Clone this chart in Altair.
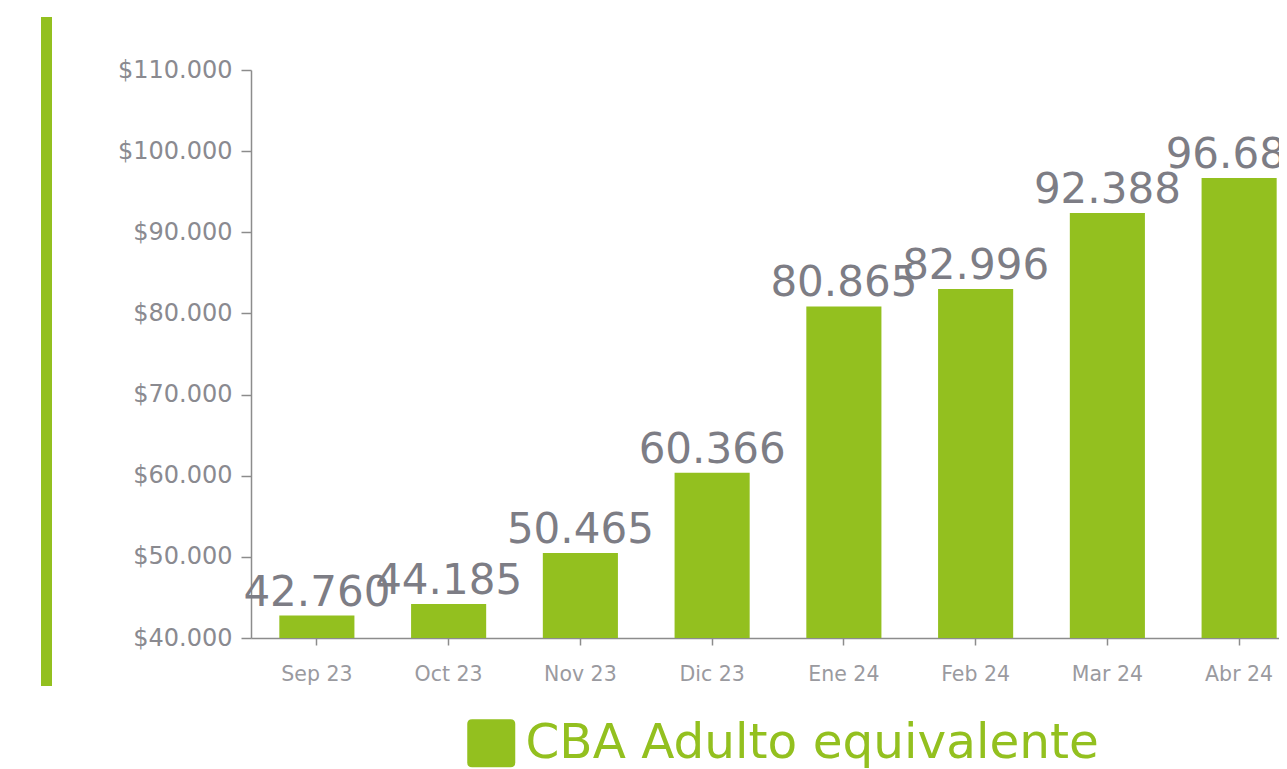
import altair as alt
import pandas as pd

months = ["Sep 23", "Oct 23", "Nov 23", "Dic 23", "Ene 24", "Feb 24", "Mar 24", "Abr 24"]
values = [42760, 44185, 50465, 60366, 80865, 82996, 92388, 96683]
series_name = "CBA Adulto equivalente"

df = pd.DataFrame({"mes": months, "valor": values, "serie": [series_name] * len(months)})

GREEN = "#93c01f"
FONT = "DejaVu Sans"
AXIS_GRAY = "#8c8c8c"

x_enc = alt.X(
    "mes:N", sort=months, title=None,
    scale=alt.Scale(range=[0, 1054], paddingInner=0.43, paddingOuter=0.215),
    axis=alt.Axis(labelAngle=0, tickSize=7, labelPadding=19, labelFontSize=20.5,
                  labelColor="#9a9a9f", domainColor=AXIS_GRAY, tickColor=AXIS_GRAY,
                  labelFont=FONT, grid=False, domainWidth=1.5, tickWidth=1.5),
)
y_enc = alt.Y(
    "valor:Q", title=None,
    scale=alt.Scale(domain=[40000, 110000], nice=False, zero=False),
    axis=alt.Axis(values=list(range(40000, 110001, 10000)), tickSize=10, labelPadding=9,
                  labelFontSize=24, labelColor="#8a8a90", labelFont=FONT,
                  domainColor=AXIS_GRAY, tickColor=AXIS_GRAY, grid=False,
                  domainWidth=1.5, tickWidth=1.5,
                  labelExpr="'$' + replace(format(datum.value, ','), ',', '.')"),
)

rounded_square = ("M -0.8 -1 L 0.8 -1 Q 1 -1 1 -0.8 L 1 0.8 Q 1 1 0.8 1 "
                  "L -0.8 1 Q -1 1 -1 0.8 L -1 -0.8 Q -1 -1 -0.8 -1 Z")

bars = alt.Chart(df).mark_bar().encode(
    x=x_enc,
    y=y_enc,
    y2=alt.datum(40000),
    color=alt.Color(
        "serie:N",
        scale=alt.Scale(domain=[series_name], range=[GREEN]),
        legend=alt.Legend(orient="none", legendX=216, legendY=649, title=None,
                          symbolType=rounded_square, symbolSize=2304, symbolStrokeWidth=0,
                          labelFontSize=48.5, labelColor=GREEN, labelFont=FONT,
                          labelOffset=10, padding=0, labelLimit=1000),
    ),
)

labels = alt.Chart(df).transform_calculate(
    label="replace(format(datum.valor, ','), ',', '.')"
).mark_text(dy=-10, baseline="alphabetic", fontSize=42, color="#7d7d85", font=FONT).encode(
    x=alt.X("mes:N", sort=months),
    y=alt.Y("valor:Q"),
    text="label:N",
)

stripe = alt.Chart(pd.DataFrame({"a": [0]})).mark_rule(color=GREEN, strokeWidth=11).encode(
    x=alt.value(-204.5), y=alt.value(-53), y2=alt.value(616)
)

chart = alt.layer(stripe, bars, labels).properties(
    width=1028, height=568,
    autosize=alt.AutoSizeParams(type="none"),
    padding={"left": 243, "top": 62, "right": 0, "bottom": 131},
).configure_view(stroke=None)

chart.save("out.html", embed_options={"renderer": "svg", "actions": False})
